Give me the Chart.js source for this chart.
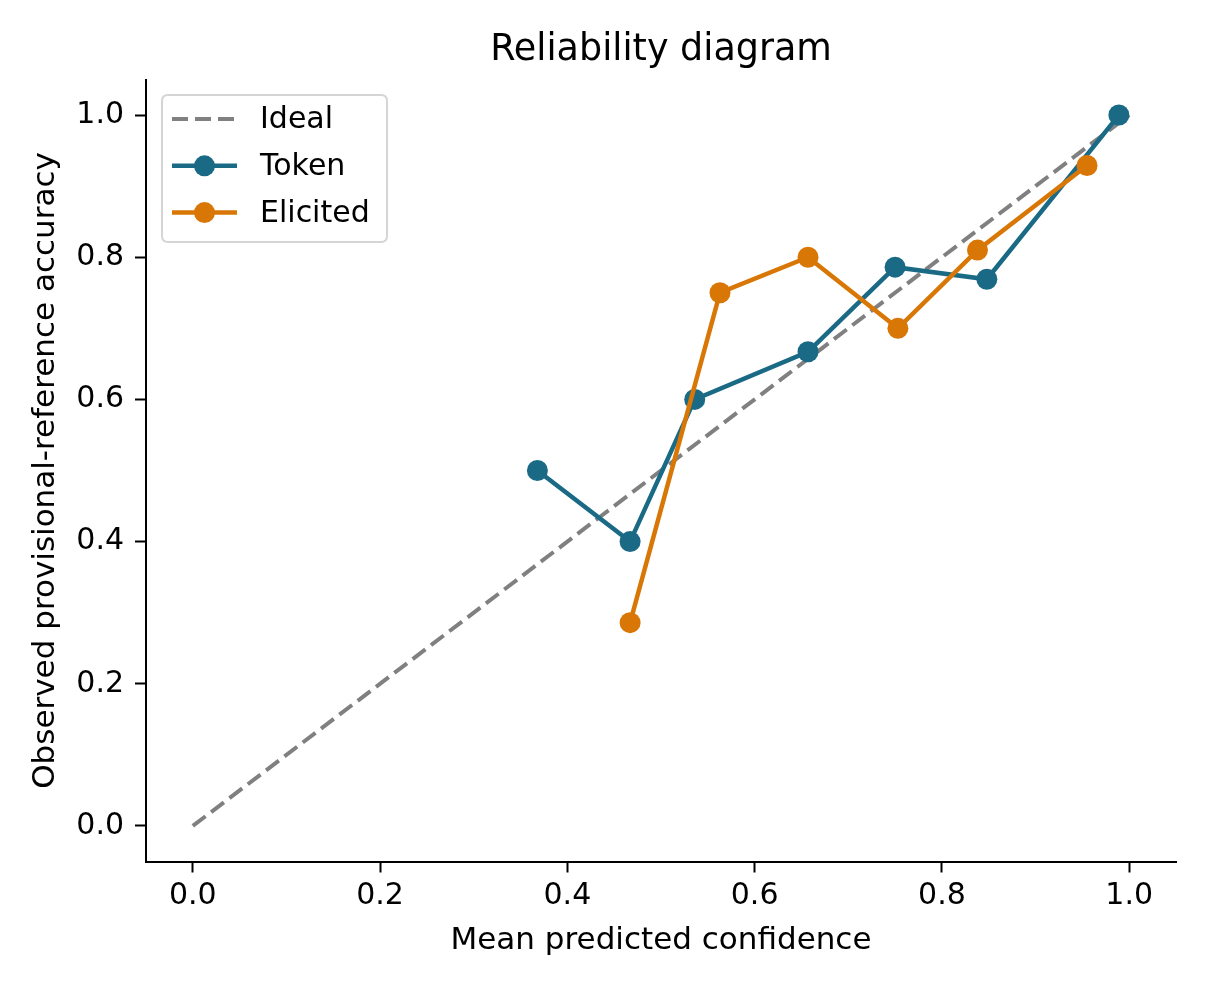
<!DOCTYPE html>
<html>
<head>
<meta charset="utf-8">
<script src="https://cdn.jsdelivr.net/npm/chart.js@4.4.1/dist/chart.umd.min.js"></script>
<style>
  html, body { margin: 0; padding: 0; background: #ffffff; }
  #wrap { width: 1210px; height: 990px; }
</style>
</head>
<body>
<div id="wrap"><canvas id="c" width="1210" height="990"></canvas></div>
<script>
// ---- data ----
const idealConf = [0.0, 1.0];
const idealAcc = [0.0, 1.0];
const tokenConf = [0.368, 0.467, 0.536, 0.657, 0.750, 0.848, 0.989];
const tokenAcc  = [0.500, 0.400, 0.600, 0.667, 0.786, 0.769, 1.000];
const elicitedConf = [0.467, 0.563, 0.657, 0.753, 0.838, 0.955];
const elicitedAcc  = [0.286, 0.750, 0.800, 0.700, 0.810, 0.929];
const xTicks = [0.0, 0.2, 0.4, 0.6, 0.8, 1.0];
const yTicks = [0.0, 0.2, 0.4, 0.6, 0.8, 1.0];
const seriesNames = ['Ideal', 'Token', 'Elicited'];
const titleText = 'Reliability diagram';
const xLabel = 'Mean predicted confidence';
const yLabel = 'Observed provisional-reference accuracy';

const FONT = "'DejaVu Sans', 'Liberation Sans', sans-serif";
const TOKEN_COLOR = '#1a6a86';
const ELICITED_COLOR = '#d97706';
const IDEAL_COLOR = '#808080';

const zip = (xs, ys) => xs.map((x, i) => ({ x: x, y: ys[i] }));

// Title centred over the plotting area (as matplotlib does)
const titlePlugin = {
  id: 'mplTitle',
  afterDraw(chart) {
    const ctx = chart.ctx;
    const ca = chart.chartArea;
    ctx.save();
    ctx.fillStyle = '#000000';
    ctx.font = '36.5px ' + FONT;
    ctx.textAlign = 'center';
    ctx.textBaseline = 'alphabetic';
    ctx.fillText(titleText, (ca.left + ca.right) / 2, ca.top - 19.5);
    ctx.restore();
  }
};

const legendPlugin = {
  id: 'mplLegend',
  afterDraw(chart) {
    const ctx = chart.ctx;
    const ca = chart.chartArea;
    const left = ca.left + 16, top = ca.top + 15.5;
    const w = 225, h = 147, r = 6;
    ctx.save();
    ctx.beginPath();
    ctx.moveTo(left + r, top);
    ctx.lineTo(left + w - r, top);
    ctx.quadraticCurveTo(left + w, top, left + w, top + r);
    ctx.lineTo(left + w, top + h - r);
    ctx.quadraticCurveTo(left + w, top + h, left + w - r, top + h);
    ctx.lineTo(left + r, top + h);
    ctx.quadraticCurveTo(left, top + h, left, top + h - r);
    ctx.lineTo(left, top + r);
    ctx.quadraticCurveTo(left, top, left + r, top);
    ctx.closePath();
    ctx.fillStyle = 'rgba(255,255,255,0.8)';
    ctx.fill();
    ctx.lineWidth = 2;
    ctx.strokeStyle = '#d5d5d5';
    ctx.stroke();

    const rowH = 46.8;
    chart.data.datasets.forEach((ds, i) => {
      const y = top + 24 + i * rowH;
      const x0 = left + 10, x1 = left + 75;
      ctx.beginPath();
      ctx.setLineDash(ds.borderDash || []);
      ctx.lineWidth = ds.borderWidth;
      ctx.strokeStyle = ds.borderColor;
      ctx.moveTo(x0, y);
      ctx.lineTo(x1, y);
      ctx.stroke();
      ctx.setLineDash([]);
      if (ds.pointRadius > 0) {
        ctx.beginPath();
        ctx.arc((x0 + x1) / 2, y, ds.pointRadius, 0, Math.PI * 2);
        ctx.fillStyle = ds.pointBackgroundColor;
        ctx.fill();
      }
      ctx.fillStyle = '#000000';
      ctx.font = '30px ' + FONT;
      ctx.textAlign = 'left';
      ctx.textBaseline = 'middle';
      ctx.fillText(ds.label, left + 98, y + 1.5);
    });
    ctx.restore();
  }
};

const axisCommon = {
  type: 'linear',
  min: -0.05,
  max: 1.05,
  grid: {
    drawOnChartArea: false,
    drawTicks: true,
    tickLength: 11,
    tickWidth: 2,
    tickColor: '#000000'
  },
  border: { display: true, color: '#000000', width: 2 }
};

new Chart(document.getElementById('c'), {
  type: 'line',
  data: {
    datasets: [
      {
        label: seriesNames[0],
        data: zip(idealConf, idealAcc),
        borderColor: IDEAL_COLOR,
        backgroundColor: IDEAL_COLOR,
        borderWidth: 4,
        borderDash: [16, 7],
        pointRadius: 0,
        pointHoverRadius: 0,
        fill: false,
        tension: 0,
        order: 3
      },
      {
        label: seriesNames[1],
        data: zip(tokenConf, tokenAcc),
        borderColor: TOKEN_COLOR,
        backgroundColor: TOKEN_COLOR,
        pointBackgroundColor: TOKEN_COLOR,
        pointBorderColor: TOKEN_COLOR,
        pointBorderWidth: 0,
        borderWidth: 4.5,
        pointRadius: 10.5,
        fill: false,
        tension: 0,
        order: 2
      },
      {
        label: seriesNames[2],
        data: zip(elicitedConf, elicitedAcc),
        borderColor: ELICITED_COLOR,
        backgroundColor: ELICITED_COLOR,
        pointBackgroundColor: ELICITED_COLOR,
        pointBorderColor: ELICITED_COLOR,
        pointBorderWidth: 0,
        borderWidth: 4.5,
        pointRadius: 10.5,
        fill: false,
        tension: 0,
        order: 1
      }
    ]
  },
  options: {
    responsive: false,
    maintainAspectRatio: false,
    devicePixelRatio: 1,
    animation: false,
    events: [],
    layout: { padding: { left: 0, right: 34, top: 79.5, bottom: 0 } },
    plugins: {
      legend: { display: false },
      tooltip: { enabled: false },
      title: { display: false }
    },
    scales: {
      x: Object.assign({}, axisCommon, {
        position: 'bottom',
        afterBuildTicks(scale) { scale.ticks = xTicks.map(v => ({ value: v })); },
        afterFit(scale) { scale.height = 128.5; },
        ticks: {
          color: '#000000',
          padding: 6,
          maxRotation: 0,
          font: { family: FONT, size: 30 },
          callback: v => Number(v).toFixed(1)
        },
        title: {
          display: true,
          text: xLabel,
          color: '#000000',
          font: { family: FONT, size: 31, lineHeight: 1.2 },
          padding: { top: 0, bottom: 30 }
        }
      }),
      y: Object.assign({}, axisCommon, {
        position: 'left',
        afterBuildTicks(scale) { scale.ticks = yTicks.map(v => ({ value: v })); },
        afterFit(scale) { scale.width = 146; },
        ticks: {
          color: '#000000',
          padding: 11,
          font: { family: FONT, size: 30 },
          callback: v => Number(v).toFixed(1)
        },
        title: {
          display: true,
          text: yLabel,
          color: '#000000',
          font: { family: FONT, size: 31, lineHeight: 1.2 },
          padding: { top: 27, bottom: 0 }
        }
      })
    }
  },
  plugins: [titlePlugin, legendPlugin]
});
</script>
</body>
</html>
